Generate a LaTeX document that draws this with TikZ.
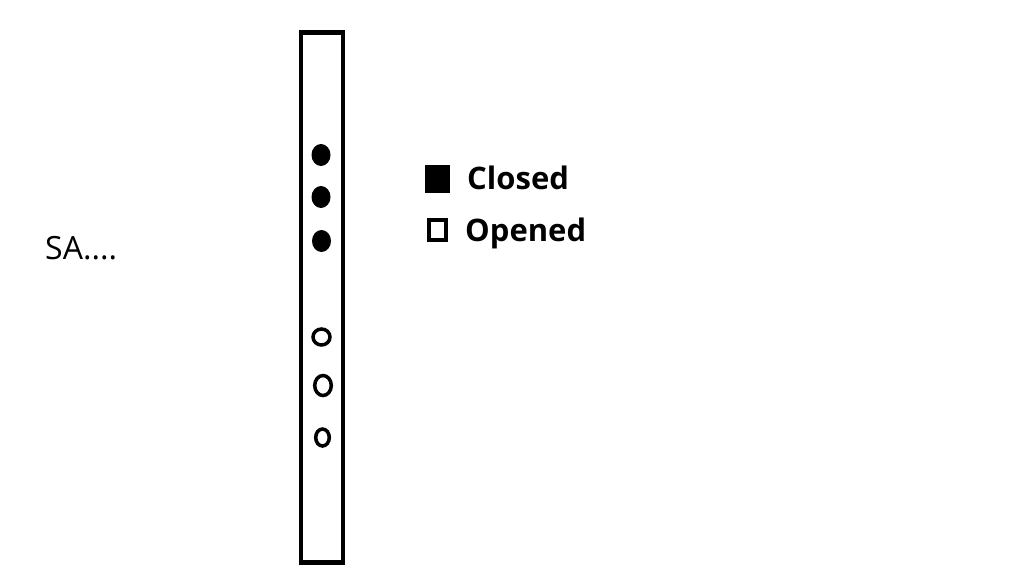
\documentclass[tikz,border=0pt]{standalone}
\usepackage{fontspec}
\setmainfont{Open Sans}
\begin{document}
\begin{tikzpicture}[x=1pt,y=-1pt,
  bar/.style={draw=black,line width=4.5pt,fill=white,inner sep=0pt,minimum width=42pt,minimum height=530pt},
  hole/.style={draw=black,line width=3.5pt,fill=white},
  plug/.style={fill=black},
  lbl/.style={inner sep=0pt,anchor=base west,font=\fontsize{31}{33}\selectfont\bfseries}]
\useasboundingbox (0,0) rectangle (1024,576);
\fill[white] (0,0) rectangle (1024,576);
\node[bar] (tube) at (322,297.5) {};
% closed (filled)
\fill[plug] (321,155) ellipse [x radius=9.5,y radius=11];
\fill[plug] (321,197) ellipse [x radius=9.5,y radius=11];
\fill[plug] (321.5,241) ellipse [x radius=9.5,y radius=11];
% opened
\draw[hole] (321.5,337) ellipse [x radius=8.5,y radius=8];
\draw[hole] (323,385.5) ellipse [x radius=8.3,y radius=10];
\draw[hole] (322.5,437.5) ellipse [x radius=6.8,y radius=8.5];
% legend
\fill[black] (425,165) rectangle (450,193);
\draw[black,line width=4pt] (429,220) rectangle (446,240);
\node[lbl] (closed) at (467,189) {Closed};
\node[lbl] (opened) at (465,241) {Opened};
\node[inner sep=0pt,anchor=base west,font=\fontsize{32}{34}\selectfont] (sa) at (45,259) {SA....};
\end{tikzpicture}
\end{document}
